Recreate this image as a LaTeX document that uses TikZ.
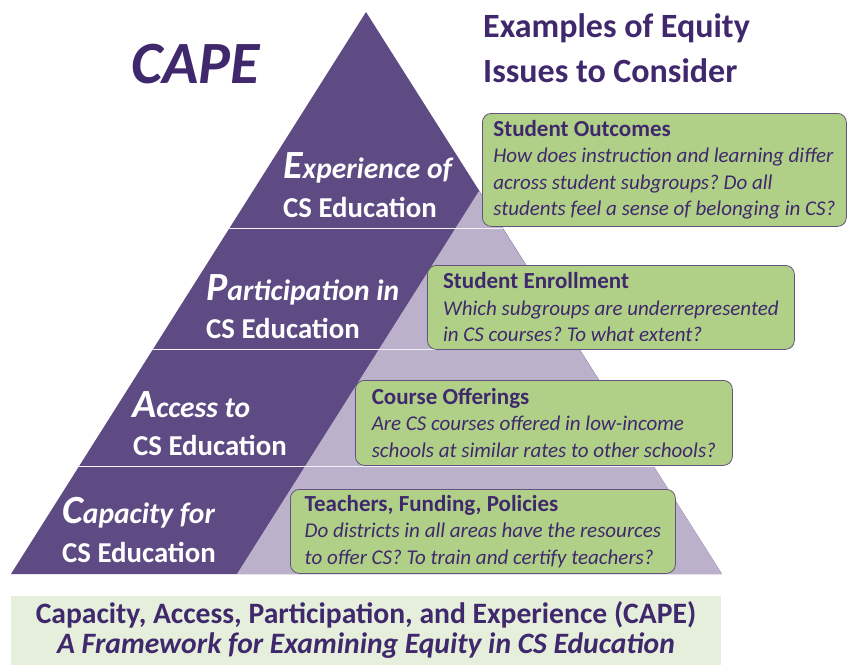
\documentclass[tikz,border=0pt]{standalone}
\usepackage{fontspec}
\setmainfont{Carlito}
\usetikzlibrary{backgrounds}
\pgfdeclarelayer{edgelayer}
\pgfdeclarelayer{nodelayer}
\pgfsetlayers{edgelayer,nodelayer,main}
\definecolor{capedark}{RGB}{95,75,132}
\definecolor{capelight}{RGB}{188,177,203}
\definecolor{capegreen}{RGB}{176,208,136}
\definecolor{capeedge}{RGB}{98,84,122}
\definecolor{capetext}{RGB}{64,40,108}
\definecolor{capeband}{RGB}{229,239,220}
\frenchspacing
\tikzset{font=\fontsize{21}{26.4}\selectfont}
\tikzstyle{none}=[inner sep=0pt]
\tikzstyle{tier}=[inner sep=0pt,anchor=base west,text=white,font=\bfseries\fontsize{28.8}{34}\selectfont]
\tikzstyle{issue}=[draw=capeedge,fill=capegreen,line width=0.8pt,rounded corners=9pt,anchor=north west,align=left,text=capetext,inner sep=0pt]
\tikzstyle{heading}=[inner sep=0pt,anchor=base west,text=capetext,font=\bfseries\fontsize{34}{40}\selectfont]
\tikzstyle{band}=[inner sep=0pt,anchor=base,text=capetext,font=\bfseries\fontsize{29.6}{32}\selectfont]
\newcommand{\tiertitle}[2]{\itshape{\fontsize{40}{40}\selectfont #1}{\fontsize{29.5}{34}\selectfont #2}}
\newcommand{\boxhead}[1]{{\bfseries\fontsize{23}{26.4}\selectfont #1}}

\begin{document}
\begin{tikzpicture}[x=1pt,y=-1pt]
	\useasboundingbox (0,0) rectangle (847,665);
	\begin{pgfonlayer}{edgelayer}
		\coordinate (apex) at (366,12);
		\coordinate (bl) at (11,574);
		\coordinate (br) at (722,574);
		\coordinate (lb) at (237,574);
		\coordinate (la) at (479,191);
		\fill[capedark] (apex) -- (bl) -- (br) -- cycle;
		\fill[capelight] (la) -- (lb) -- (br) -- cycle;
		\begin{scope}
			\clip (apex) -- (bl) -- (br) -- cycle;
			\draw[white!85!capelight,line width=1pt] (0,228) -- (847,228);
			\draw[white!85!capelight,line width=1pt] (0,349) -- (847,349);
			\draw[white!85!capelight,line width=1pt] (0,466) -- (847,466);
		\end{scope}
		\fill[capeband] (11,596) rectangle (721,665);
	\end{pgfonlayer}
	\begin{pgfonlayer}{nodelayer}
		% titles
		\node [style=none,anchor=base west,text=capetext,font=\bfseries\itshape\fontsize{60}{62}\selectfont] (cape) at (131,83) {CAPE};
		\node [style=heading] (head1) at (483,37) {Examples of Equity};
		\node [style=heading] (head2) at (483,82) {Issues to Consider};
		% pyramid tiers
		\node [style=tier] (exp) at (283,178) {\tiertitle{E}{xperience of}};
		\node [style=tier] (expcs) at (283,217) {CS Education};
		\node [style=tier] (par) at (206,300) {\tiertitle{P}{articipation in}};
		\node [style=tier] (parcs) at (206,338) {CS Education};
		\node [style=tier] (acc) at (132,417) {\tiertitle{A}{ccess to}};
		\node [style=tier] (acccs) at (133,455) {CS Education};
		\node [style=tier] (cap) at (62,523) {\tiertitle{C}{apacity for}};
		\node [style=tier] (capcs) at (62,562) {CS Education};
		% issue boxes
		\node [style=issue,minimum width=364pt,minimum height=113pt,text depth=4pt] (outcomes) at (482,113) {\boxhead{Student Outcomes}\\\itshape How does instruction and learning differ\\\itshape across student subgroups? Do all\\\itshape students feel a sense of belonging in CS?};
		\node [style=issue,minimum width=367pt,minimum height=84pt] (enroll) at (427,265) {\boxhead{Student Enrollment}\\\itshape Which subgroups are underrepresented\\\itshape in CS courses? To what extent?};
		\node [style=issue,minimum width=377pt,minimum height=85pt] (offer) at (355,380) {\boxhead{Course Offerings}\\\itshape Are CS courses offered in low-income\\\itshape schools at similar rates to other schools?};
		\node [style=issue,minimum width=385pt,minimum height=84pt] (teach) at (290,489) {\boxhead{Teachers, Funding, Policies}\\\itshape Do districts in all areas have the resources\\\itshape to offer CS? To train and certify teachers?};
		% framework band
		\node [style=band] (band1) at (366,623) {Capacity, Access, Participation, and Experience (CAPE)};
		\node [style=band,font=\bfseries\itshape\fontsize{29.6}{32}\selectfont] (band2) at (366,653) {A Framework for Examining Equity in CS Education};
	\end{pgfonlayer}
\end{tikzpicture}
\end{document}
